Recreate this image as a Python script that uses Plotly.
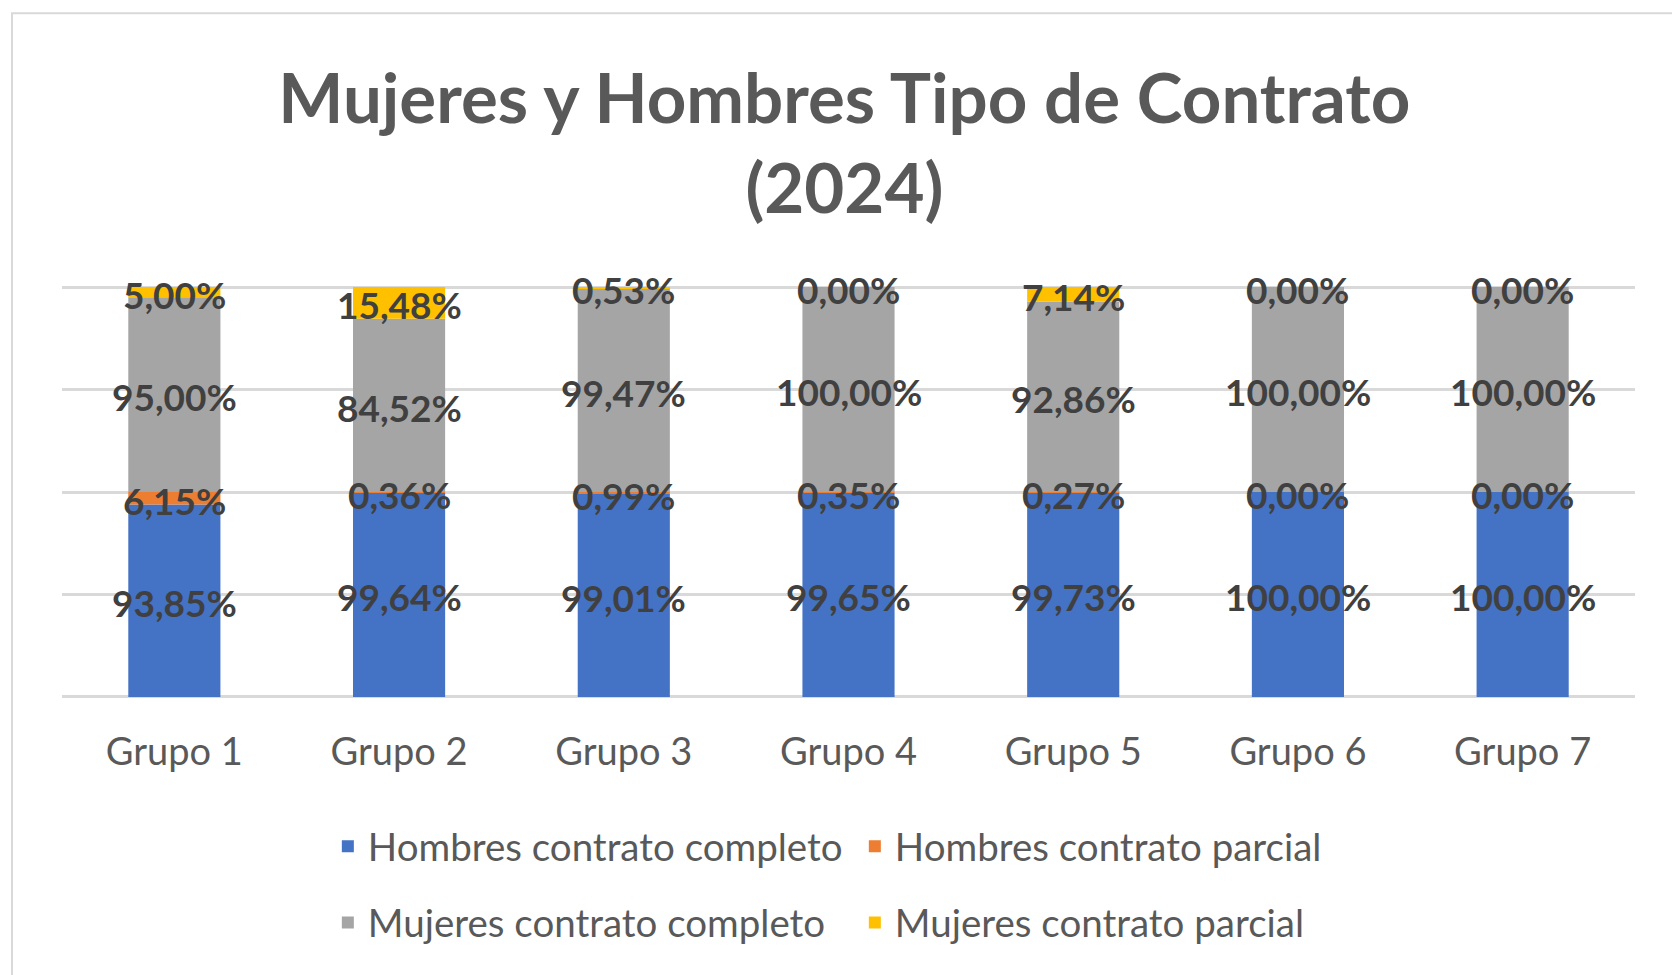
import plotly.graph_objects as go

categories = ["Grupo 1", "Grupo 2", "Grupo 3", "Grupo 4", "Grupo 5", "Grupo 6", "Grupo 7"]
hombres_completo = [93.85, 99.64, 99.01, 99.65, 99.73, 100.00, 100.00]
hombres_parcial = [6.15, 0.36, 0.99, 0.35, 0.27, 0.00, 0.00]
mujeres_completo = [95.00, 84.52, 99.47, 100.00, 92.86, 100.00, 100.00]
mujeres_parcial = [5.00, 15.48, 0.53, 0.00, 7.14, 0.00, 0.00]

series = [
    ("Hombres contrato completo", hombres_completo, "#4472C4", "legend"),
    ("Hombres contrato parcial", hombres_parcial, "#ED7D31", "legend"),
    ("Mujeres contrato completo", mujeres_completo, "#A5A5A5", "legend2"),
    ("Mujeres contrato parcial", mujeres_parcial, "#FFC000", "legend2"),
]

FONT = "Lato"

def fmt(v):
    return f"{v:.2f}".replace(".", ",") + "%"

fig = go.Figure()
base = [0.0] * len(categories)
annotations = []
for name, vals, color, leg in series:
    fig.add_trace(go.Bar(
        x=categories, y=vals, base=base[:], name=name,
        marker=dict(color=color, line=dict(width=0)),
        legend=leg, hoverinfo="skip",
    ))
    for i, v in enumerate(vals):
        annotations.append(dict(
            x=categories[i], y=base[i] + v / 2, xref="x", yref="y",
            text=fmt(v), showarrow=False, yshift=-2,
            font=dict(family=FONT, size=37, color="#404040", weight="bold"),
        ))
    base = [b + v for b, v in zip(base, vals)]

legend_font = dict(family=FONT, size=38.5, color="#595959")

fig.update_layout(
    width=1672, height=975,
    margin=dict(l=62, r=37, t=286, b=277),
    paper_bgcolor="white", plot_bgcolor="white",
    barmode="overlay", bargap=0.59,
    annotations=annotations,
    title=dict(
        text="Mujeres y Hombres Tipo de Contrato<br>(2024)",
        font=dict(family=FONT, size=69, color="#595959", weight="bold"),
        x=0.505, xanchor="center", xref="container",
        y=1 - 123 / 975, yanchor="middle", yref="container",
    ),
    xaxis=dict(
        showgrid=False, showline=False, zeroline=False,
        tickfont=dict(family=FONT, size=38, color="#595959"),
        ticks="", ticklabelstandoff=28,
    ),
    yaxis=dict(
        range=[-0.5, 200.5], tickvals=[0, 50, 100, 150, 200], showticklabels=False,
        showgrid=True, gridcolor="#D9D9D9", gridwidth=2.5,
        zeroline=False, showline=False, fixedrange=True,
    ),
    legend=dict(
        orientation="h", x=0.169, xanchor="left", y=-0.361, yanchor="middle",
        font=legend_font,
        entrywidth=482, entrywidthmode="pixels", traceorder="normal",
        bgcolor="rgba(0,0,0,0)",
    ),
    legend2=dict(
        orientation="h", x=0.169, xanchor="left", y=-0.546, yanchor="middle",
        font=legend_font,
        entrywidth=482, entrywidthmode="pixels", traceorder="normal",
        bgcolor="rgba(0,0,0,0)",
    ),
    shapes=[dict(
        type="rect", xref="paper", yref="paper",
        x0=-50 / 1573, x1=1.2, y0=-1.5, y1=(697 - 14) / 411,
        line=dict(color="#D9D9D9", width=2), fillcolor="rgba(0,0,0,0)",
        layer="below",
    )],
)

fig.write_html("out.html", config={"displayModeBar": False},
               post_script="document.body.style.margin='0';")
